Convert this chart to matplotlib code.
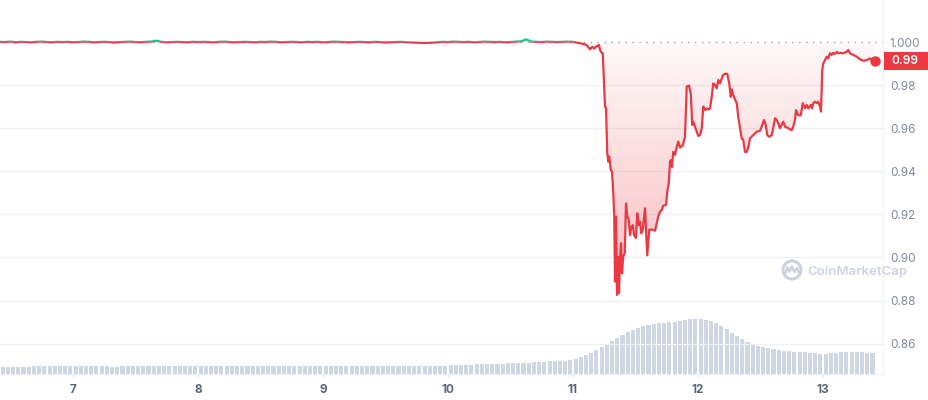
import numpy as np
import matplotlib
matplotlib.use("Agg")
import matplotlib.pyplot as plt
from matplotlib.path import Path
from matplotlib.patches import PathPatch, Rectangle, Circle
from matplotlib.transforms import IdentityTransform

plt.rcParams['font.family'] = ['Inter', 'DejaVu Sans']

# ---------------- data ----------------
BASELINE = 1.000
FLAT_START = 6.4167          # day of month where the chart starts (hourly samples)
flat_prices = [
    1.0001, 1.0000, 1.0002, 0.9999, 1.0001, 1.0000, 0.9999, 1.0001, 1.0002, 1.0000,
    0.9999, 1.0001, 1.0000, 1.0001, 0.9999, 1.0000, 1.0002, 1.0001, 0.9999, 1.0000,
    1.0001, 1.0000, 0.9998, 1.0000, 1.0001, 1.0002, 1.0000, 0.9999, 1.0001, 1.0002,
    1.0006, 1.0001, 0.9999, 1.0000, 1.0001, 1.0000, 0.9999, 1.0001, 1.0000, 1.0001,
    1.0000, 0.9999, 1.0001, 1.0002, 1.0000, 0.9999, 1.0000, 1.0001, 1.0000, 0.9999,
    1.0001, 1.0000, 1.0002, 1.0001, 0.9999, 1.0000, 1.0001, 1.0000, 0.9999, 1.0001,
    1.0000, 1.0001, 0.9999, 1.0000, 1.0002, 1.0001, 1.0000, 0.9999, 1.0000, 1.0001,
    1.0000, 0.9999, 1.0001, 1.0000, 0.9998, 0.9999, 1.0000, 1.0001, 0.9999, 0.9998,
    0.9997, 0.9996, 0.9996, 0.9997, 0.9999, 1.0001, 1.0000, 1.0002, 1.0001, 1.0000,
    1.0001, 0.9999, 1.0000, 1.0002, 1.0001, 1.0000, 1.0001, 0.9999, 1.0000, 1.0002,
    1.0003, 1.0012, 1.0002, 1.0001, 1.0000, 1.0002, 1.0001, 1.0000, 1.0001, 1.0002,
    1.0001,
]

detail_times = [
    11.056, 11.082, 11.110, 11.136, 11.154, 11.170, 11.190, 11.208, 11.216, 11.230,
    11.238, 11.248, 11.256, 11.264, 11.274, 11.282, 11.290, 11.302, 11.312, 11.322,
    11.330, 11.336, 11.344, 11.352, 11.360, 11.368, 11.376, 11.384, 11.392, 11.402,
    11.414, 11.424, 11.434, 11.446, 11.456, 11.466, 11.478, 11.488, 11.504, 11.514,
    11.526, 11.536, 11.546, 11.558, 11.576, 11.594, 11.610, 11.630, 11.656, 11.670,
    11.682, 11.696, 11.710, 11.722, 11.744, 11.754, 11.766, 11.776, 11.784, 11.792,
    11.802, 11.816, 11.830, 11.842, 11.856, 11.878, 11.896, 11.910, 11.928, 11.942,
    11.954, 11.962, 11.976, 11.990, 12.002, 12.016, 12.030, 12.042, 12.056, 12.070,
    12.082, 12.096, 12.110, 12.122, 12.136, 12.150, 12.162, 12.176, 12.190, 12.202,
    12.216, 12.234, 12.250, 12.262, 12.270, 12.282, 12.296, 12.310, 12.322, 12.336,
    12.350, 12.362, 12.376, 12.390, 12.402, 12.416, 12.442, 12.470, 12.496, 12.510,
    12.528, 12.542, 12.554, 12.570, 12.590, 12.602, 12.616, 12.630, 12.642, 12.656,
    12.682, 12.696, 12.722, 12.750, 12.762, 12.776, 12.784, 12.802, 12.822, 12.838,
    12.856, 12.870, 12.882, 12.902, 12.912, 12.922, 12.936, 12.950, 12.962, 12.976,
    12.984, 12.994, 13.002, 13.016, 13.030, 13.042, 13.056, 13.070, 13.082, 13.096,
    13.110, 13.122, 13.136, 13.162, 13.190, 13.202, 13.216, 13.242, 13.270, 13.296,
    13.322, 13.350, 13.376, 13.398, 13.416,
]
detail_prices = [
    0.9994, 0.9991, 0.9986, 0.9966, 0.9978, 0.9970, 0.9981, 0.9986, 0.9963, 0.9950,
    0.9948, 0.9810, 0.9700, 0.9694, 0.9485, 0.9445, 0.9468, 0.9406, 0.9400, 0.9300,
    0.9190, 0.8888, 0.9190, 0.8826, 0.9003, 0.8834, 0.8990, 0.9066, 0.8927, 0.9003,
    0.9020, 0.9250, 0.9190, 0.9174, 0.9104, 0.9140, 0.9150, 0.9104, 0.9090, 0.9205,
    0.9150, 0.9166, 0.9112, 0.9128, 0.9228, 0.9010, 0.9128, 0.9130, 0.9124, 0.9160,
    0.9190, 0.9213, 0.9220, 0.9240, 0.9244, 0.9305, 0.9344, 0.9445, 0.9452, 0.9420,
    0.9490, 0.9476, 0.9514, 0.9538, 0.9510, 0.9520, 0.9560, 0.9793, 0.9798, 0.9760,
    0.9615, 0.9630, 0.9607, 0.9584, 0.9564, 0.9568, 0.9600, 0.9700, 0.9684, 0.9692,
    0.9687, 0.9692, 0.9746, 0.9808, 0.9800, 0.9785, 0.9824, 0.9808, 0.9831, 0.9847,
    0.9852, 0.9852, 0.9808, 0.9746, 0.9780, 0.9754, 0.9734, 0.9716, 0.9653, 0.9600,
    0.9553, 0.9545, 0.9490, 0.9490, 0.9511, 0.9553, 0.9568, 0.9584, 0.9588, 0.9607,
    0.9638, 0.9615, 0.9568, 0.9560, 0.9568, 0.9600, 0.9646, 0.9638, 0.9623, 0.9600,
    0.9630, 0.9607, 0.9600, 0.9590, 0.9607, 0.9638, 0.9684, 0.9660, 0.9660, 0.9716,
    0.9692, 0.9708, 0.9692, 0.9708, 0.9692, 0.9716, 0.9723, 0.9716, 0.9723, 0.9700,
    0.9677, 0.9870, 0.9900, 0.9916, 0.9932, 0.9924, 0.9948, 0.9940, 0.9950, 0.9944,
    0.9954, 0.9948, 0.9950, 0.9948, 0.9955, 0.9963, 0.9948, 0.9940, 0.9932, 0.9920,
    0.9913, 0.9916, 0.9924, 0.9916, 0.9913,
]

# hourly volume (relative units)
volume = [
    7, 7, 7, 7, 7, 7, 8, 8, 8, 8, 8, 8, 8, 8, 8, 8, 8, 8, 8, 8,
    8, 7, 7, 8, 8, 8, 8, 8, 8, 8, 8, 8, 8, 8, 8, 8, 8, 8, 8, 8,
    8, 8, 8, 8, 8, 8, 8, 8, 8, 8, 8, 8, 8, 8, 8, 8, 8, 8, 8, 8,
    8, 8, 8, 8, 8, 8, 8, 8, 8, 8, 8, 8, 8, 8, 8, 8, 8, 8, 8, 8,
    8, 8, 8,
    8, 8, 8, 9, 9, 9, 9, 9, 10, 10, 10, 10, 10, 10, 11, 11, 11,
    11, 11, 12, 12, 12, 13, 13, 13,
    13, 14, 15, 17, 19, 21,
    24, 27, 30, 33, 36, 39, 42, 44,
    46, 48, 49, 50, 51, 51, 52, 52,
    53, 54, 55, 55, 55, 54, 53,
    51, 48, 45, 41, 38, 35, 32, 30, 28,
    27, 26, 25, 24, 23, 23, 22, 22, 22, 21, 21,
    20, 20, 21, 21, 22, 22, 22, 22, 22, 21, 21,
]

day_ticks = [7, 8, 9, 10, 11, 12, 13]
price_ticks = [0.86, 0.88, 0.90, 0.92, 0.94, 0.96, 0.98, 1.00]
price_tick_labels = ["0.86", "0.88", "0.90", "0.92", "0.94", "0.96", "0.98", "1.000"]
last_label = "0.99"

# ---------------- styles ----------------
RED = "#ea3943"
GREEN = "#16c784"
GRID = "#eff2f5"
LABEL = "#808a9d"
XLABEL = "#58667e"
VOLC = "#cfd6e4"

W, H = 929, 400
fig = plt.figure(figsize=(W / 100, H / 100), dpi=100)
pos = [0, 26 / H, 883 / W, 374 / H]

XMIN, XMAX = 6.416, 13.48
YMIN, YMAX = 0.8459, 1.0195

# volume axes (behind)
axv = fig.add_axes(pos)
vt = FLAT_START + (np.arange(len(volume)) + 0.5) / 24
axv.bar(vt, volume, width=0.78 / 24, color=VOLC, linewidth=0)
axv.set_xlim(XMIN, XMAX)
axv.set_ylim(0, 374)
axv.axis("off")

ax = fig.add_axes(pos)
ax.patch.set_visible(False)
t = np.concatenate([FLAT_START + np.arange(len(flat_prices)) / 24, np.array(detail_times)])
p = np.concatenate([np.array(flat_prices), np.array(detail_prices)])

ax.set_xlim(XMIN, XMAX)
ax.set_ylim(YMIN, YMAX)

# grid
for v in price_ticks[:-1]:
    ax.axhline(v, color=GRID, lw=1, zorder=0)
ax.axhline(BASELINE, color="#9aa4b6", lw=1, ls=(0, (1, 4)), zorder=1)

# gradient fill below baseline
pc = np.minimum(p, BASELINE)
verts = np.vstack([np.column_stack([t, pc]), [[t[-1], BASELINE], [t[0], BASELINE]]])
clip = PathPatch(Path(verts), transform=ax.transData, facecolor="none", edgecolor="none")
ax.add_patch(clip)
n = 256
alpha = np.linspace(0.345, 0.035, n).reshape(-1, 1)
img = np.zeros((n, 1, 4))
img[..., 0], img[..., 1], img[..., 2] = 234 / 255, 57 / 255, 67 / 255
img[..., 3] = alpha
im = ax.imshow(img, extent=[t[0], t[-1], 0.88, BASELINE], origin="lower",
               aspect="auto", zorder=2, interpolation="bilinear")
im.set_clip_path(clip)

# line coloured by side of baseline (non-rectilinear clip paths avoid pixel snapping)
lr, = ax.plot(t, p, color=RED, lw=1.6, zorder=4, solid_joinstyle="round")
lg, = ax.plot(t, p, color=GREEN, lw=1.6, zorder=4, solid_joinstyle="round")
above = PathPatch(Path([(XMIN - 1, BASELINE), (XMAX + 1, BASELINE), (XMAX + 1, 2.0),
                        (XMIN - 0.5, 2.5), (XMIN - 1, BASELINE)]),
                  transform=ax.transData)
below = PathPatch(Path([(XMIN - 1, BASELINE), (XMAX + 1, BASELINE), (XMAX + 1, 0.0),
                        (XMIN - 0.5, -0.5), (XMIN - 1, BASELINE)]),
                  transform=ax.transData)
lg.set_clip_path(above)
lr.set_clip_path(below)

ax.plot([t[-1]], [p[-1]], "o", color=RED, ms=6.5, zorder=5, mec=RED)

# axes styling
for s in ["top", "left"]:
    ax.spines[s].set_visible(False)
ax.spines["right"].set_color(GRID)
ax.spines["bottom"].set_color(GRID)
ax.yaxis.tick_right()
ax.set_yticks(price_ticks)
ax.set_yticklabels(price_tick_labels)
ax.tick_params(axis="y", length=0, pad=5, labelsize=8.5, labelcolor=LABEL)
ax.set_xticks(day_ticks)
ax.set_xticklabels([str(d) for d in day_ticks])
ax.tick_params(axis="x", length=2.5, color="#d9dee6", pad=5, labelsize=8.5, labelcolor=XLABEL)
for lab in ax.get_xticklabels():
    lab.set_fontweight("bold")

# last price badge
ybadge = ax.transData.transform((XMAX, p[-1]))[1]
fig.patches.append(Rectangle((884, ybadge - 9), 45, 18, transform=IdentityTransform(),
                             facecolor=RED, edgecolor="none"))
fig.text(891 / W, ybadge / H, last_label, color="white", fontsize=8.5,
         fontweight="semibold", va="center", ha="left")

# watermark
WM = "#cdd3de"
fig.patches.append(Circle((792, H - 270), 9, transform=IdentityTransform(),
                          facecolor="none", edgecolor=WM, lw=2.2))
wx = np.array([785.5, 787.5, 789.5, 792, 794.5, 797, 799])
wy = np.array([273, 267.5, 271.5, 266.5, 272, 268, 272.5])
fig.lines.append(plt.Line2D(wx, H - wy, transform=IdentityTransform(), color=WM, lw=1.8))
fig.text(807 / W, (H - 274.5) / H, "CoinMarketCap", color=WM, fontsize=9.5,
         fontweight="semibold", va="baseline", ha="left")

fig.savefig("out.png", dpi=100)
